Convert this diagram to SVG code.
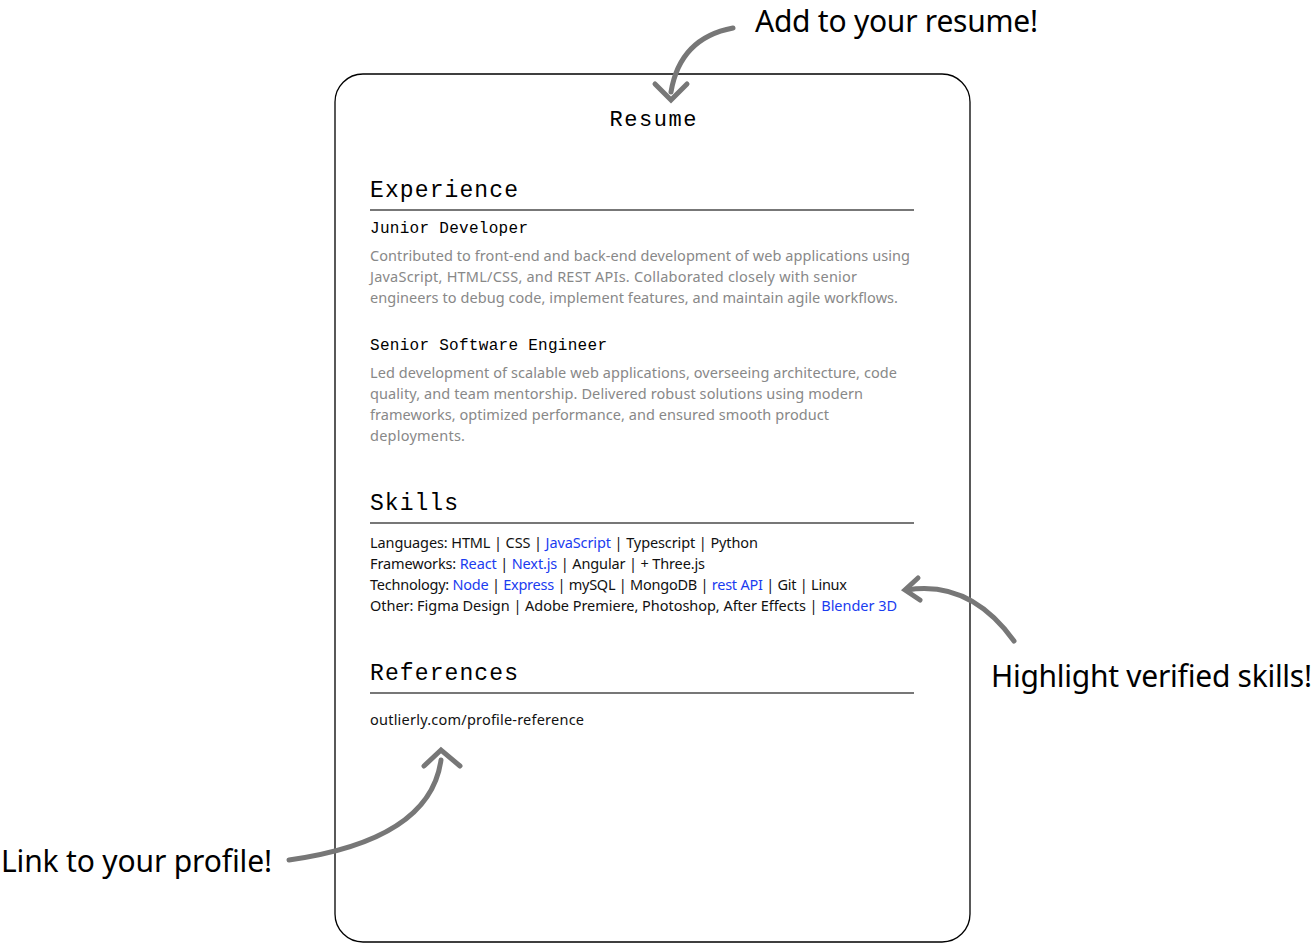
<svg xmlns="http://www.w3.org/2000/svg" width="1315" height="943" viewBox="0 0 1315 943">
<style>
.mono{font-family:"Liberation Mono","DejaVu Sans Mono",monospace;fill:#000}
.h{font-size:23px}
.job{font-size:16px}
.body{font-family:"Noto Sans","Open Sans",sans-serif;font-size:14.5px;fill:#888}
.sk{font-family:"Noto Sans","Open Sans",sans-serif;font-size:14.5px;fill:#111}
.b{fill:#1a3cf0}
.ann{font-family:"Noto Sans","Open Sans",sans-serif;font-size:30px;fill:#000}
.rule{stroke:#777;stroke-width:2}
.arr{fill:none;stroke:#777;stroke-width:5;stroke-linecap:round}
</style>
<rect width="1315" height="943" fill="#fff"/>
<g id="resume">
<rect x="335" y="74" width="635" height="868" rx="28" fill="#fff" stroke="#000" stroke-width="1.3"/>
<text class="mono" x="653" y="126" text-anchor="middle" font-size="22" textLength="87">Resume</text>
<text class="mono h" x="370" y="197" textLength="148">Experience</text>
<line class="rule" x1="370" y1="210" x2="914" y2="210"/>
<text class="mono job" x="370" y="233" textLength="158">Junior Developer</text>
<text class="body" x="370" y="261" textLength="540">Contributed to front-end and back-end development of web applications using</text>
<text class="body" x="370" y="282" textLength="487">JavaScript, HTML/CSS, and REST APIs. Collaborated closely with senior</text>
<text class="body" x="370" y="303" textLength="528">engineers to debug code, implement features, and maintain agile workflows.</text>
<text class="mono job" x="370" y="350" textLength="237">Senior Software Engineer</text>
<text class="body" x="370" y="378" textLength="527">Led development of scalable web applications, overseeing architecture, code</text>
<text class="body" x="370" y="399" textLength="493">quality, and team mentorship. Delivered robust solutions using modern</text>
<text class="body" x="370" y="420" textLength="459">frameworks, optimized performance, and ensured smooth product</text>
<text class="body" x="370" y="441" textLength="95">deployments.</text>
<text class="mono h" x="370" y="510" textLength="88">Skills</text>
<line class="rule" x1="370" y1="523" x2="914" y2="523"/>
<text class="sk" x="370" y="548" textLength="388">Languages: HTML | CSS | <tspan class="b">JavaScript</tspan> | Typescript | Python</text>
<text class="sk" x="370" y="569" textLength="335">Frameworks: <tspan class="b">React</tspan> | <tspan class="b">Next.js</tspan> | Angular | + Three.js</text>
<text class="sk" x="370" y="590" textLength="477">Technology: <tspan class="b">Node</tspan> | <tspan class="b">Express</tspan> | mySQL | MongoDB | <tspan class="b">rest API</tspan> | Git | Linux</text>
<text class="sk" x="370" y="611" textLength="527">Other: Figma Design | Adobe Premiere, Photoshop, After Effects | <tspan class="b">Blender 3D</tspan></text>
<text class="mono h" x="370" y="680" textLength="148">References</text>
<line class="rule" x1="370" y1="693" x2="914" y2="693"/>
<text class="sk" x="370" y="725" textLength="214">outlierly.com/profile-reference</text>
</g>
<g id="connectors">
<path class="arr" d="M733 28 Q680 38 671 92"/>
<path class="arr" d="M655 84 L671 100 L687 84"/>
<path class="arr" d="M1014 641 Q970 580 907 590"/>
<path class="arr" d="M918 578 L905 590 L920 600"/>
<path class="arr" d="M289 860 Q430 840 441 760"/>
<path class="arr" d="M424 766 L441 750 L460 766"/>
</g>
<g id="labels">
<text class="ann" x="755" y="32" textLength="283">Add to your resume!</text>
<text class="ann" x="991" y="687" textLength="321">Highlight verified skills!</text>
<text class="ann" x="1" y="872" textLength="271">Link to your profile!</text>
</g>
</svg>
